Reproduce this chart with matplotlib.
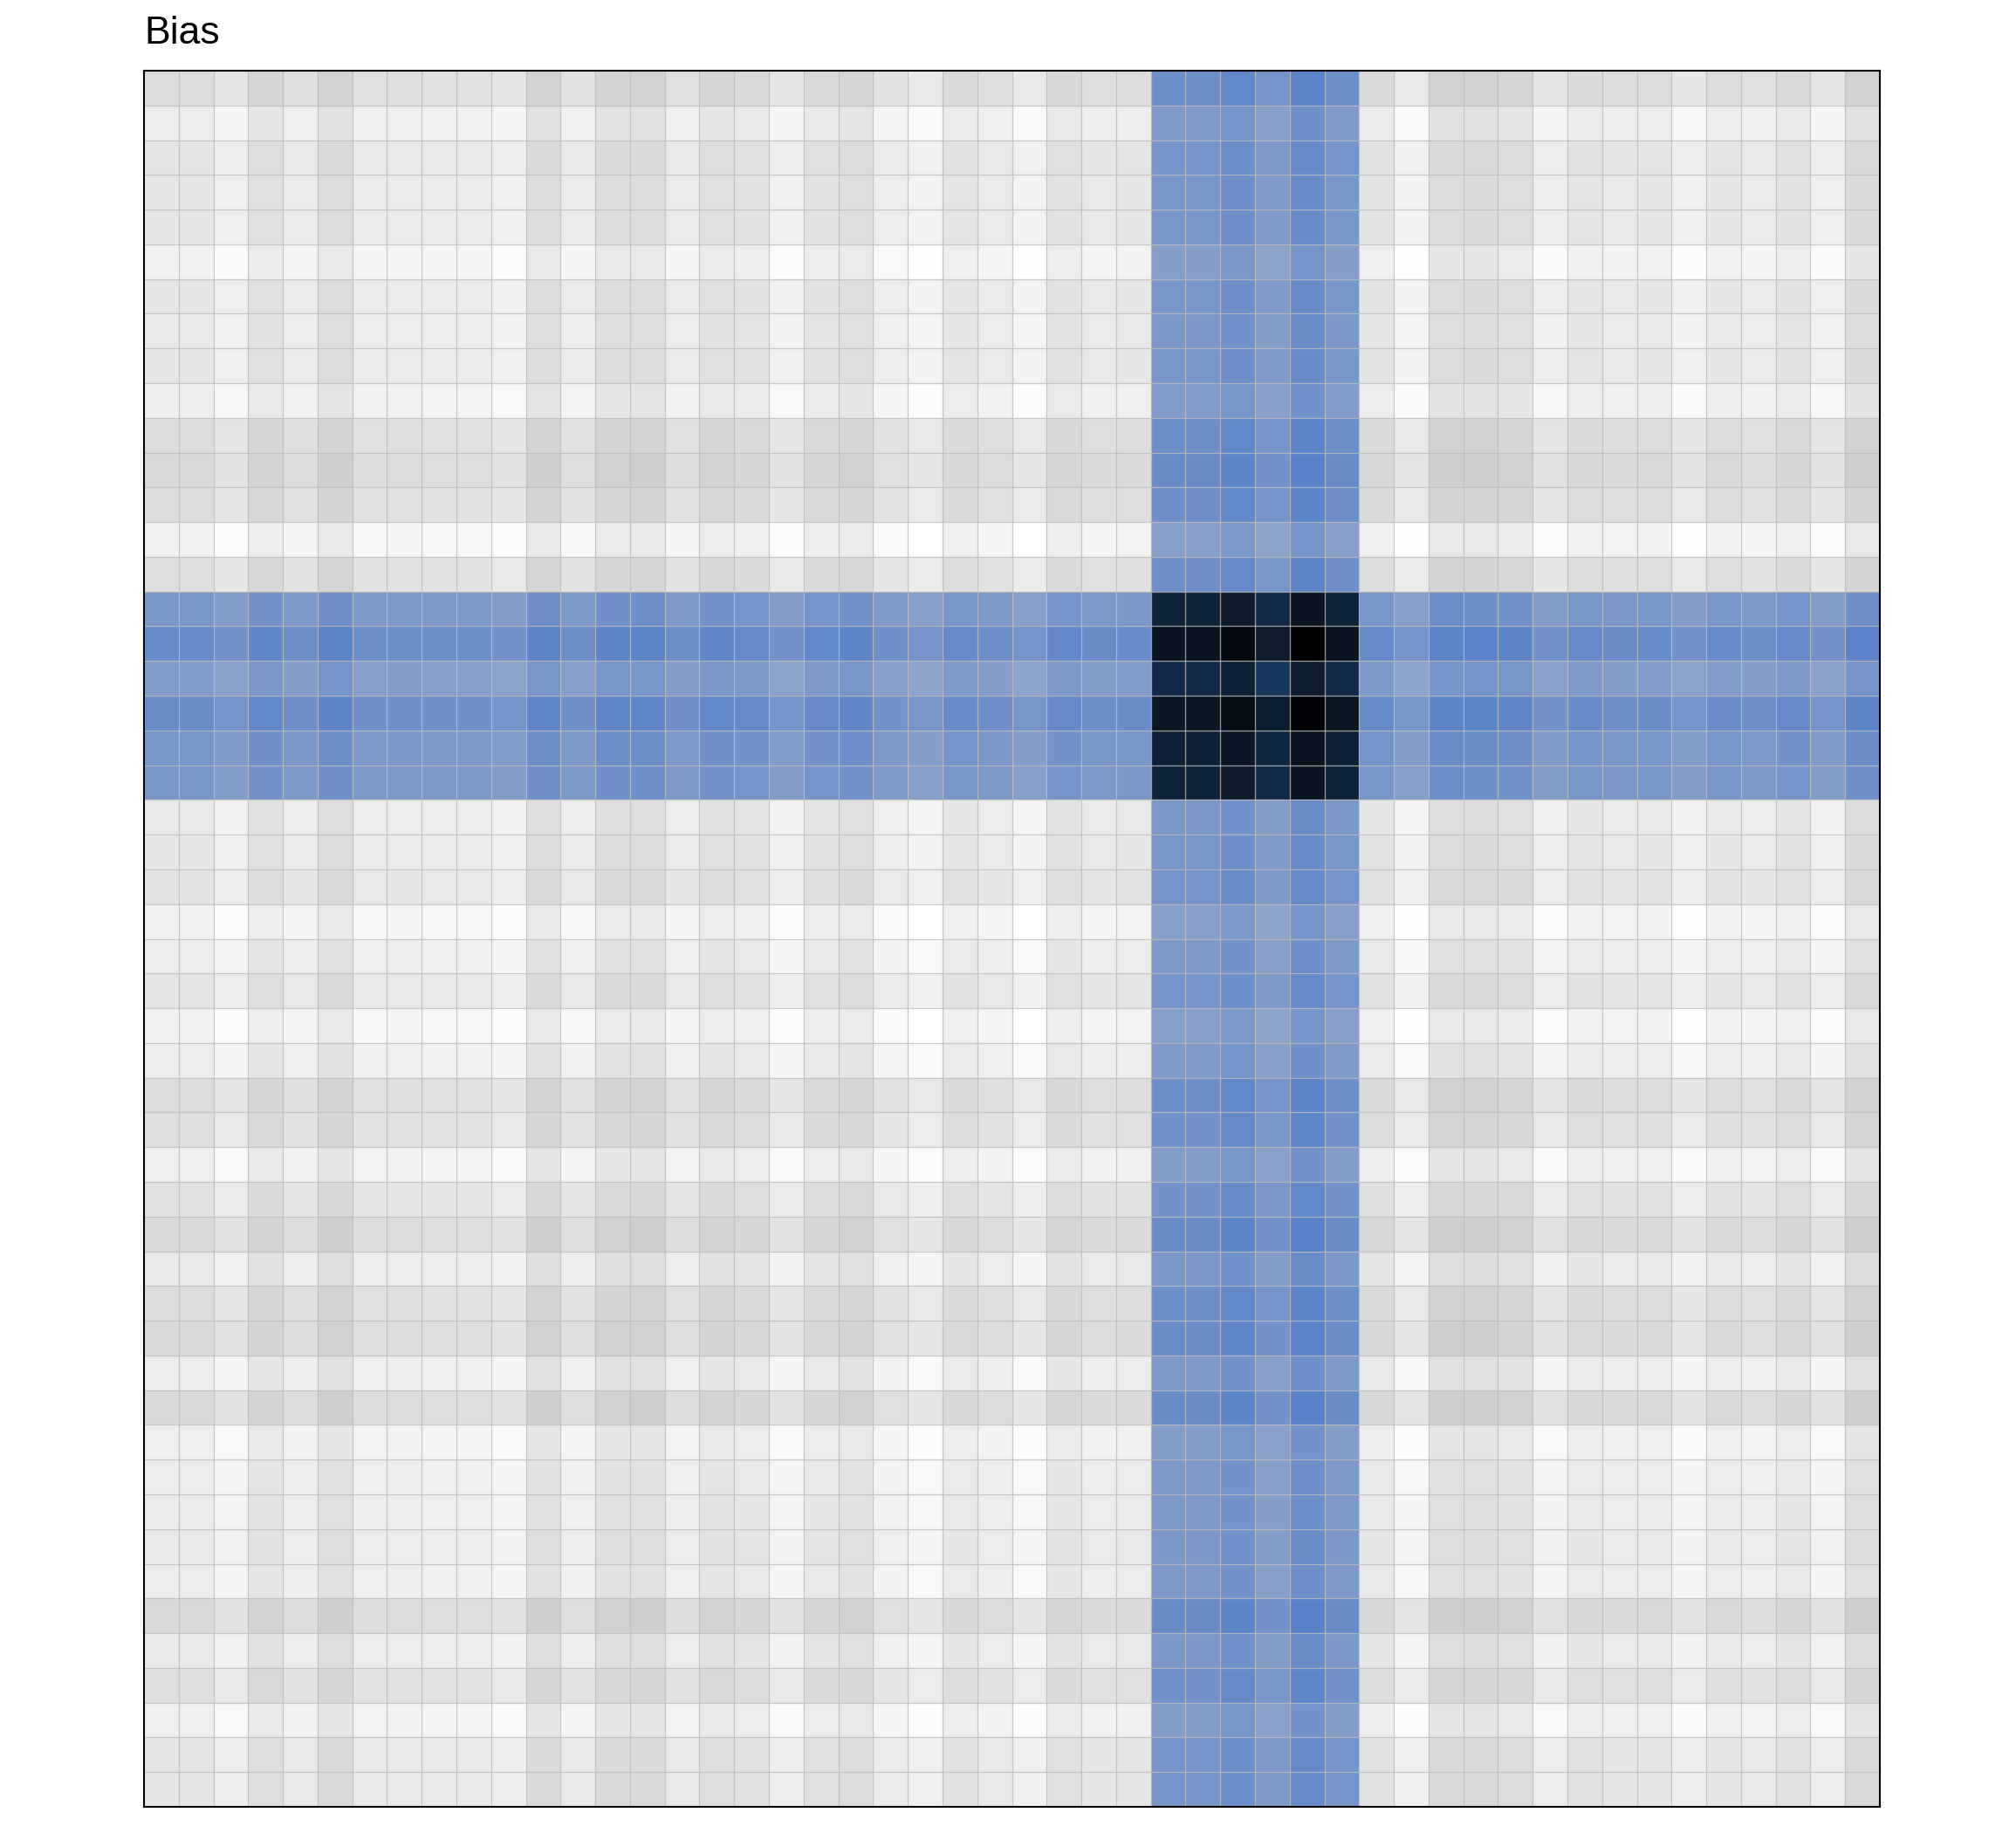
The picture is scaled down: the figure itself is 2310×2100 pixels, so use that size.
import numpy as np
import matplotlib
matplotlib.use("Agg")
import matplotlib.pyplot as plt
from matplotlib.colors import LinearSegmentedColormap

# ---- data: per-row and per-column bias levels ----
# normal rows/cols ~ 0..30, the highlighted band sits at 100 + strength
row_bias = [16, 0, 8, 6, 6, -5, 6, 4, 6, -2,
            16, 19, 15, -6, 14, 109, 124, 102, 122, 111,
            109, 4, 6, 9, -6, 1, 8, -6, 0, 16,
            13, -3, 11, 19, 4, 16, 18, 1, 19, -3,
            1, 2, 4, 1, 19, 4, 13, -3, 8, 8]
col_bias = [19, 19, 10.5, 25.5, 16, 29, 15, 16, 14.5, 14.5,
            9.5, 28.5, 14.5, 28, 28.5, 15.5, 25.5, 22.5, 9.5, 23,
            27, 12.5, 7, 21, 16, 7, 23.5, 17.5, 18.5, 123,
            123, 132, 116, 137, 123, 21.5, 7.5, 29.5, 30, 27,
            11, 20.5, 18, 19, 9, 19, 15.5, 22.5, 10.5, 30]
title = "Bias"

bias = np.add.outer(np.array(row_bias, float), np.array(col_bias, float))

# grey for plain cells, blue where one index is in the band, navy->black at the crossing
vmin, vmax = 0, 270
nodes = [(0, "#ffffff"), (60, "#c3c3c3"), (95, "#c3c3c3"),
         (100, "#98abc8"), (160, "#557fc9"), (210, "#17395e"),
         (218, "#15375b"), (225, "#112a48"), (232, "#0e2238"),
         (240, "#0d1b2c"), (247, "#0b1621"), (255, "#060c16"),
         (261, "#000000"), (270, "#000000")]
cmap = LinearSegmentedColormap.from_list(
    "bias", [((v - vmin) / (vmax - vmin), c) for v, c in nodes])

n_rows, n_cols = bias.shape
fig = plt.figure(figsize=(23.1, 21), dpi=100)
ax = fig.add_axes([165 / 2310, 30 / 2100, 1989 / 2310, 1989 / 2100])
ax.pcolormesh(np.arange(n_cols + 1), np.arange(n_rows + 1), bias,
              cmap=cmap, vmin=vmin, vmax=vmax)
ax.hlines(np.arange(1, n_rows), 0, n_cols, color="#bdbdbd", alpha=0.8, lw=0.9)
ax.vlines(np.arange(1, n_cols), 0, n_rows, color="#bdbdbd", alpha=0.8, lw=0.9)
ax.set_xlim(0, n_cols)
ax.set_ylim(n_rows, 0)
ax.set_xticks([])
ax.set_yticks([])
for sp in ax.spines.values():
    sp.set_linewidth(1.5)
    sp.set_color("black")
ax.set_title(title, loc="left", fontsize=32, pad=22, family="Liberation Sans")

fig.savefig("out.png", dpi=100)
